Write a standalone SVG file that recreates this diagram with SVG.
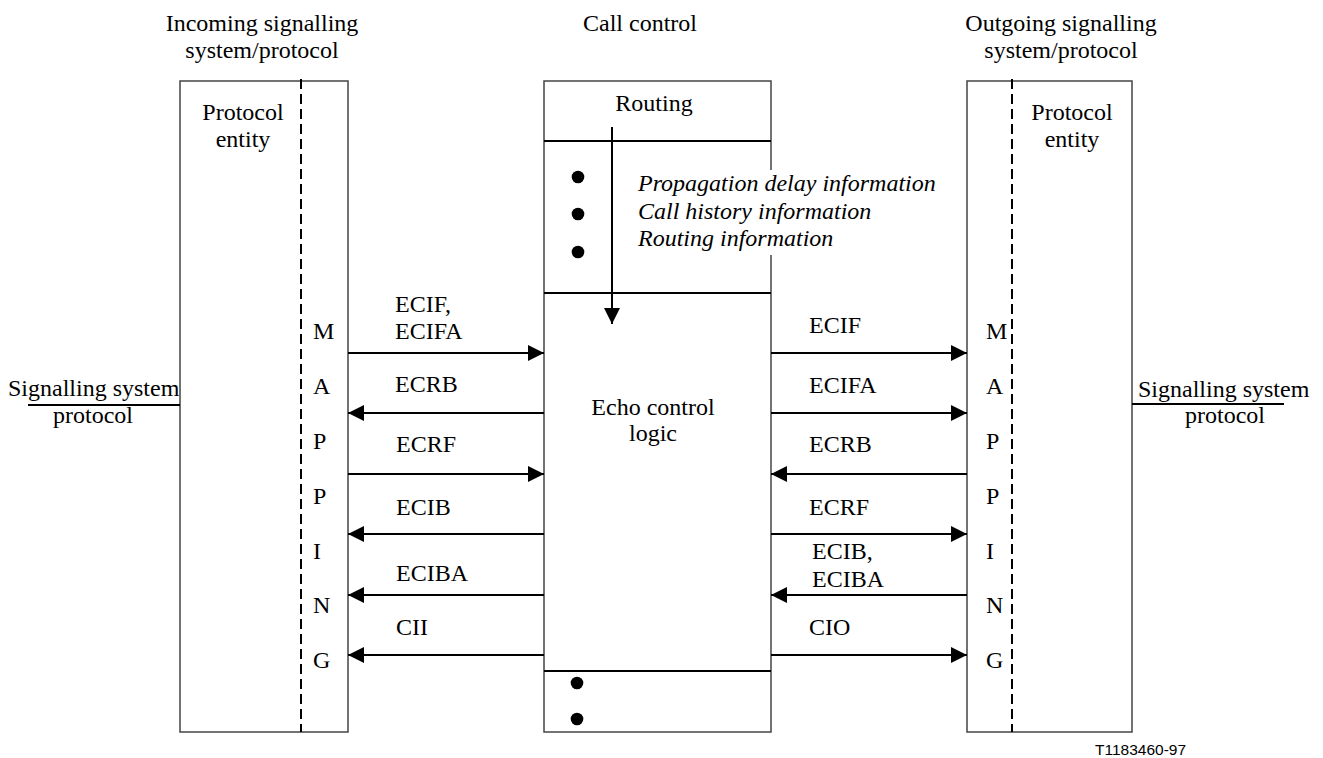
<svg xmlns="http://www.w3.org/2000/svg" width="1323" height="758" viewBox="0 0 1323 758">
<style>
text { font-family: "Liberation Serif", "Times New Roman", serif; font-size: 24px; fill: #000; }
.c { text-anchor: middle; }
.it { font-style: italic; }
.box { fill: #fff; stroke: #444; stroke-width: 1.5; }
.div { stroke: #000; stroke-width: 2; fill: none; }
.dash { stroke: #000; stroke-width: 2; stroke-dasharray: 10,5; fill: none; }
.arr { stroke: #000; stroke-width: 2; fill: none; marker-end: url(#ah); }
.sig { stroke: #000; stroke-width: 2; fill: none; }
.code { font-family: "Liberation Sans", Arial, sans-serif; font-size: 15.5px; }
</style>
<defs>
<marker id="ah" markerUnits="userSpaceOnUse" markerWidth="16" markerHeight="16" refX="16" refY="8" orient="auto">
<path d="M0,0 L16,8 L0,16 z" fill="#000"/>
</marker>
</defs>
<rect width="1323" height="758" fill="#fff"/>

<g id="titles">
<text class="c" x="262" y="31">Incoming signalling</text>
<text class="c" x="262" y="58">system/protocol</text>
<text class="c" x="640" y="31">Call control</text>
<text class="c" x="1061" y="31">Outgoing signalling</text>
<text class="c" x="1061" y="58">system/protocol</text>
</g>

<g id="incoming">
<rect class="box" x="180" y="81" width="168" height="651"/>
<line class="dash" x1="301" y1="79" x2="301" y2="732"/>
<text class="c" x="243" y="120">Protocol</text>
<text class="c" x="243" y="147">entity</text>
<text x="313" y="339">M</text>
<text x="313" y="394">A</text>
<text x="313" y="449">P</text>
<text x="313" y="504">P</text>
<text x="313" y="559">I</text>
<text x="313" y="613">N</text>
<text x="313" y="668">G</text>
</g>

<g id="callcontrol">
<rect class="box" x="544" y="81" width="227" height="651"/>
<line class="div" x1="544" y1="141" x2="771" y2="141"/>
<line class="div" x1="544" y1="293" x2="771" y2="293"/>
<line class="div" x1="544" y1="671" x2="771" y2="671"/>
<text class="c" x="654" y="111">Routing</text>
<circle cx="578" cy="177" r="6.3"/>
<circle cx="578" cy="214" r="6.3"/>
<circle cx="578" cy="252" r="6.3"/>
<rect x="636" y="170" width="304" height="85" fill="#fff"/>
<text class="it" x="638" y="191">Propagation delay information</text>
<text class="it" x="638" y="219">Call history information</text>
<text class="it" x="638" y="246">Routing information</text>
<text class="c" x="653" y="415">Echo control</text>
<text class="c" x="653" y="441">logic</text>
<circle cx="577" cy="683" r="6.3"/>
<circle cx="577" cy="719" r="6.3"/>
</g>

<g id="outgoing">
<rect class="box" x="967" y="81" width="165" height="651"/>
<line class="dash" x1="1012" y1="79" x2="1012" y2="732"/>
<text class="c" x="1072" y="120">Protocol</text>
<text class="c" x="1072" y="147">entity</text>
<text x="986" y="339">M</text>
<text x="986" y="394">A</text>
<text x="986" y="449">P</text>
<text x="986" y="504">P</text>
<text x="986" y="559">I</text>
<text x="986" y="613">N</text>
<text x="986" y="668">G</text>
</g>

<g id="connectors">
<line class="arr" x1="612" y1="127" x2="612" y2="324"/>
<line class="arr" x1="348" y1="353" x2="544" y2="353"/>
<line class="arr" x1="544" y1="413" x2="348" y2="413"/>
<line class="arr" x1="348" y1="474" x2="544" y2="474"/>
<line class="arr" x1="544" y1="534" x2="348" y2="534"/>
<line class="arr" x1="544" y1="595" x2="348" y2="595"/>
<line class="arr" x1="544" y1="655" x2="348" y2="655"/>
<line class="arr" x1="771" y1="353" x2="967" y2="353"/>
<line class="arr" x1="771" y1="413" x2="967" y2="413"/>
<line class="arr" x1="967" y1="474" x2="771" y2="474"/>
<line class="arr" x1="771" y1="534" x2="967" y2="534"/>
<line class="arr" x1="967" y1="595" x2="771" y2="595"/>
<line class="arr" x1="771" y1="655" x2="967" y2="655"/>
<line class="sig" x1="28" y1="405" x2="180" y2="405"/>
<line class="sig" x1="1132" y1="404" x2="1284" y2="404"/>
</g>

<g id="labels">
<text x="395" y="312">ECIF,</text>
<text x="395" y="339">ECIFA</text>
<text x="395" y="392">ECRB</text>
<text x="396" y="452">ECRF</text>
<text x="396" y="515">ECIB</text>
<text x="396" y="581">ECIBA</text>
<text x="396" y="635">CII</text>
<text x="809" y="333">ECIF</text>
<text x="809" y="393">ECIFA</text>
<text x="809" y="452">ECRB</text>
<text x="809" y="515">ECRF</text>
<text x="812" y="559">ECIB,</text>
<text x="812" y="587">ECIBA</text>
<text x="809" y="635">CIO</text>
<text x="8" y="396">Signalling system</text>
<text class="c" x="93" y="423">protocol</text>
<text x="1138" y="397">Signalling system</text>
<text class="c" x="1225" y="423">protocol</text>
<text class="code" x="1095" y="755">T1183460-97</text>
</g>
</svg>
